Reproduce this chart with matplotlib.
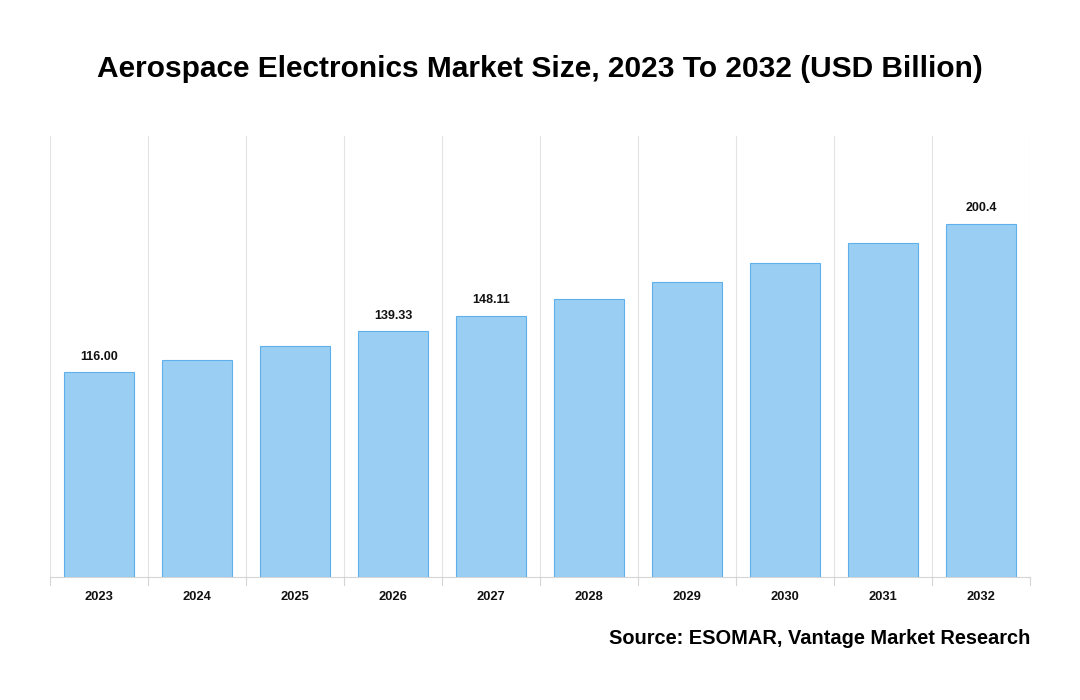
import matplotlib
matplotlib.use("Agg")
import matplotlib.pyplot as plt
import numpy as np

plt.rcParams['font.family'] = ['Liberation Sans', 'DejaVu Sans']

years = ['2023', '2024', '2025', '2026', '2027', '2028', '2029', '2030', '2031', '2032']
market_size = [116.00, 123.0, 131.0, 139.33, 148.11, 157.6, 167.2, 178.0, 189.3, 200.4]
shown_labels = {0: '116.00', 3: '139.33', 4: '148.11', 9: '200.4'}

fig = plt.figure(figsize=(10.8, 7), dpi=100)
ax = fig.add_axes([0.0463, 0.1757, 0.9074, 0.63])

x = np.arange(len(years))
ax.bar(x, market_size, width=0.714, color='#9ACFF3', edgecolor='#5DB0EC', linewidth=0.8, zorder=3)

for i, txt in shown_labels.items():
    ax.annotate(txt, (x[i], market_size[i]), xytext=(0, 7), textcoords='offset points',
                ha='center', va='bottom', fontsize=9, fontweight='bold', color='#111111')

ax.set_xlim(-0.5, len(years) - 0.5)
ax.set_ylim(0, 250)
ax.set_yticks([])
ax.set_xticks(x)
ax.set_xticklabels(years, fontsize=9.3, fontweight='bold', color='#111111')
ax.tick_params(axis='x', length=0, pad=10)

# vertical separators between categories
for b in np.arange(-0.5, len(years), 1.0):
    ax.axvline(b, color='#E3E3E3', linewidth=0.8, zorder=1)
    ax.plot([b, b], [0, -0.018], transform=ax.get_xaxis_transform(), color='#D5D5D5',
            linewidth=0.8, clip_on=False)

for s in ['top', 'left', 'right']:
    ax.spines[s].set_visible(False)
ax.spines['bottom'].set_color('#D5D5D5')
ax.spines['bottom'].set_linewidth(0.8)

fig.text(0.5, 0.901, 'Aerospace Electronics Market Size, 2023 To 2032 (USD Billion)',
         ha='center', va='center', fontsize=21.5, fontweight='bold', color='#000000')
fig.text(0.9537, 0.088, 'Source: ESOMAR, Vantage Market Research',
         ha='right', va='center', fontsize=14.4, fontweight='bold', color='#000000')

fig.savefig('out.png', dpi=100)
